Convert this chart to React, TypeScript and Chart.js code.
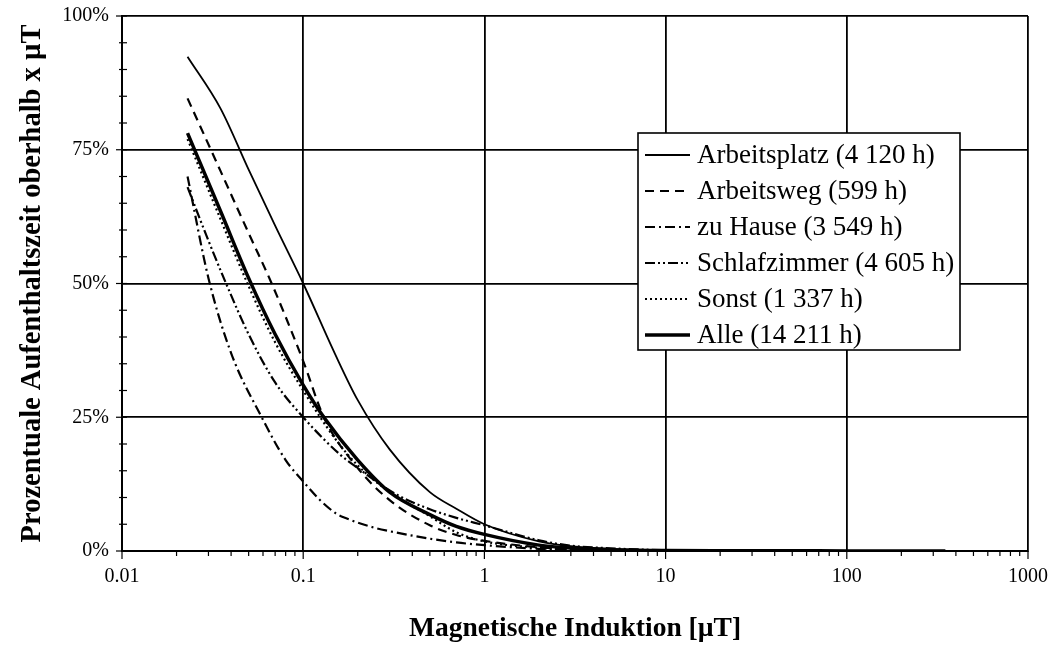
import React, { useEffect, useRef } from 'react';
import { Chart, registerables } from 'chart.js';

Chart.register(...registerables);

// ---- data ----
const xTickValues = [0.01, 0.1, 1, 10, 100, 1000];
const xTickLabels = ['0.01', '0.1', '1', '10', '100', '1000'];
const yTickValues = [0, 25, 50, 75, 100];

const seriesLabels = [
  'Arbeitsplatz (4 120 h)',
  'Arbeitsweg (599 h)',
  'zu Hause (3 549 h)',
  'Schlafzimmer (4 605 h)',
  'Sonst (1 337 h)',
  'Alle (14 211 h)',
];

const xArbeitsplatz = [0.023, 0.035, 0.05, 0.07, 0.1, 0.15, 0.2, 0.3, 0.5, 0.7, 1, 2, 3, 5, 10, 20, 50, 100, 350];
const yArbeitsplatz = [92.4, 82.7, 71.3, 60.8, 50, 36.8, 28.2, 19, 11, 7.9, 5, 1.8, 0.9, 0.4, 0.15, 0.08, 0.04, 0.02, 0.01];

const xArbeitsweg = [0.023, 0.035, 0.05, 0.067, 0.1, 0.13, 0.2, 0.3, 0.5, 0.7, 1, 2, 3, 5, 10, 30];
const yArbeitsweg = [84.6, 71, 59.4, 50, 35.5, 25, 15.5, 9.5, 4.8, 3, 1.9, 0.7, 0.35, 0.15, 0.05, 0];

const xZuHause = [0.023, 0.03, 0.04, 0.059, 0.08, 0.1, 0.124, 0.152, 0.17, 0.25, 0.3, 0.5, 0.7, 1, 2, 5, 10];
const yZuHause = [70, 51, 37, 25, 17, 13, 9.5, 7, 6.2, 4.3, 3.7, 2.3, 1.6, 1.1, 0.4, 0.1, 0];

const xSchlafzimmer = [0.023, 0.03, 0.037, 0.05, 0.07, 0.1, 0.16, 0.2, 0.33, 0.5, 0.7, 1, 2, 3, 5, 10, 20];
const ySchlafzimmer = [68, 58, 50.5, 40.5, 31.5, 25, 18, 15.5, 10.5, 7.8, 6.2, 4.8, 2, 1, 0.5, 0.15, 0];

const xSonst = [0.023, 0.035, 0.05, 0.07, 0.1, 0.15, 0.2, 0.3, 0.5, 0.7, 1, 2, 3, 5, 10, 20];
const ySonst = [77, 62, 49.5, 39, 30, 21, 16, 11, 6.5, 3.5, 1.8, 0.6, 0.3, 0.15, 0.05, 0];

const xAlle = [0.023, 0.035, 0.05, 0.07, 0.1, 0.13, 0.2, 0.3, 0.5, 0.7, 1, 2, 3, 5, 10, 20, 50, 100, 350];
const yAlle = [78.1, 63.5, 51, 40.5, 31, 25, 17, 11, 6.8, 4.6, 3.1, 1.1, 0.55, 0.25, 0.1, 0.05, 0.03, 0.02, 0.01];

const seriesX = [xArbeitsplatz, xArbeitsweg, xZuHause, xSchlafzimmer, xSonst, xAlle];
const seriesY = [yArbeitsplatz, yArbeitsweg, yZuHause, ySchlafzimmer, ySonst, yAlle];

// ---- styles ----
const lineStyles = [
  { width: 1.8, dash: [] as number[] },
  { width: 2.2, dash: [9, 6] },
  { width: 2.2, dash: [10, 4, 2, 4] },
  { width: 2.2, dash: [10, 3, 2, 3, 2, 3] },
  { width: 2.2, dash: [2, 3] },
  { width: 3.5, dash: [] as number[] },
];

const FONT = "'Liberation Serif', 'Times New Roman', serif";
const W = 1053;
const H = 646;

const decorPlugin = {
  id: 'decor',
  afterDraw(chart: any) {
    const { ctx, chartArea, scales } = chart;
    const xs = scales.x;
    const ys = scales.y;
    ctx.save();
    ctx.strokeStyle = '#000';
    ctx.lineWidth = 1.2;
    ctx.setLineDash([]);
    // x minor ticks
    for (let d = -2; d <= 2; d++) {
      for (let m = 1; m <= 9; m++) {
        const v = m * Math.pow(10, d);
        const px = xs.getPixelForValue(v);
        ctx.beginPath();
        ctx.moveTo(px, chartArea.bottom);
        ctx.lineTo(px, chartArea.bottom + (m === 1 ? 8 : 5));
        ctx.stroke();
      }
    }
    const pxEnd = xs.getPixelForValue(1000);
    ctx.beginPath();
    ctx.moveTo(pxEnd, chartArea.bottom);
    ctx.lineTo(pxEnd, chartArea.bottom + 8);
    ctx.stroke();
    // y minor ticks
    for (let v = 0; v <= 100; v += 5) {
      const py = ys.getPixelForValue(v);
      const major = v % 25 === 0;
      ctx.beginPath();
      ctx.moveTo(chartArea.left - (major ? 6 : 3), py);
      ctx.lineTo(chartArea.left + 5, py);
      ctx.stroke();
    }
    // legend
    const lx = 638, ly = 133, lw = 322, lh = 217;
    ctx.fillStyle = '#fff';
    ctx.fillRect(lx, ly, lw, lh);
    ctx.lineWidth = 1.6;
    ctx.strokeRect(lx, ly, lw, lh);
    ctx.font = `27px ${FONT}`;
    ctx.textBaseline = 'middle';
    ctx.textAlign = 'left';
    chart.data.datasets.forEach((ds: any, i: number) => {
      const y = 155 + i * 36;
      ctx.strokeStyle = '#000';
      ctx.lineWidth = ds.borderWidth;
      ctx.setLineDash(ds.borderDash || []);
      ctx.beginPath();
      ctx.moveTo(645, y);
      ctx.lineTo(690, y);
      ctx.stroke();
      ctx.setLineDash([]);
      ctx.fillStyle = '#000';
      ctx.fillText(ds.label, 697, y + 1);
    });
    ctx.restore();
  },
};

export default function App() {
  const ref = useRef<HTMLCanvasElement | null>(null);
  useEffect(() => {
    document.body.style.margin = '0';
    const canvas = ref.current;
    if (!canvas) return;
    const datasets = seriesLabels.map((label, i) => ({
      label,
      data: seriesX[i].map((x, j) => ({ x, y: seriesY[i][j] })),
      borderColor: '#000',
      backgroundColor: '#000',
      borderWidth: lineStyles[i].width,
      borderDash: lineStyles[i].dash,
      pointRadius: 0,
      fill: false,
      cubicInterpolationMode: 'monotone' as const,
      tension: 0.4,
    }));
    const chart = new Chart(canvas, {
      type: 'line',
      data: { datasets },
      plugins: [decorPlugin],
      options: {
        animation: false,
        responsive: false,
        layout: { padding: { top: 16, right: 25, left: 0, bottom: 0 } },
        plugins: { legend: { display: false }, tooltip: { enabled: false } },
        scales: {
          x: {
            type: 'logarithmic',
            min: 0.01,
            max: 1000,
            afterBuildTicks: (scale: any) => {
              scale.ticks = xTickValues.map((v) => ({ value: v }));
            },
            afterFit: (scale: any) => {
              scale.height = 95;
              scale.paddingLeft = 0;
              scale.paddingRight = 0;
            },
            ticks: {
              autoSkip: false,
              maxRotation: 0,
              padding: 14,
              color: '#000',
              font: { family: FONT, size: 20 },
              callback: (v: any) => {
                const i = xTickValues.indexOf(Number(v));
                return i >= 0 ? xTickLabels[i] : '';
              },
            },
            grid: { color: '#000', lineWidth: 1.8, drawTicks: false },
            border: { color: '#000', width: 2 },
            title: {
              display: true,
              text: 'Magnetische Induktion [µT]',
              color: '#000',
              font: { family: FONT, size: 27.5, weight: 'bold' },
              padding: { top: 0, bottom: 1 },
            },
          },
          y: {
            type: 'linear',
            min: 0,
            max: 100,
            afterBuildTicks: (scale: any) => {
              scale.ticks = yTickValues.map((v) => ({ value: v }));
            },
            afterFit: (scale: any) => {
              scale.width = 122;
              scale.paddingTop = 0;
              scale.paddingBottom = 0;
            },
            ticks: {
              padding: 13,
              color: '#000',
              font: { family: FONT, size: 20 },
              callback: (v: any) => `${v}%`,
            },
            grid: { color: '#000', lineWidth: 1.8, drawTicks: false },
            border: { color: '#000', width: 2 },
            title: {
              display: true,
              text: 'Prozentuale Aufenthaltszeit oberhalb x µT',
              color: '#000',
              font: { family: FONT, size: 28.5, weight: 'bold' },
              padding: { top: 16, bottom: 0 },
            },
          },
        },
      },
    });
    return () => chart.destroy();
  }, []);
  return <canvas ref={ref} width={W} height={H} style={{ display: 'block' }} />;
}
